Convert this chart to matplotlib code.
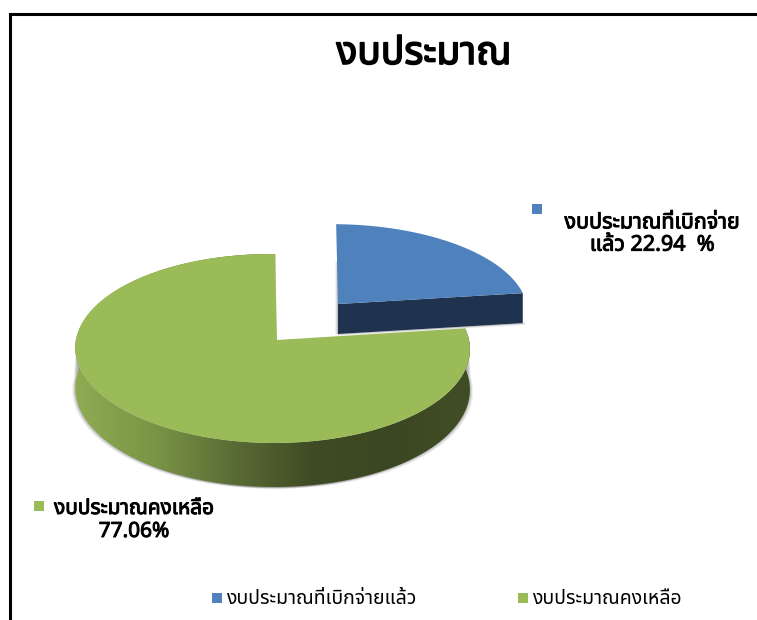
import numpy as np
import matplotlib
matplotlib.use("Agg")
from matplotlib import pyplot as plt
from matplotlib.colors import LinearSegmentedColormap
from matplotlib.patches import Rectangle, Polygon
import matplotlib.patheffects as pe

# data
categories = ["งบประมาณที่เบิกจ่ายแล้ว", "งบประมาณคงเหลือ"]
values = [22.94, 77.06]
title = "งบประมาณ"
label_blue = "งบประมาณที่เบิกจ่าย\nแล้ว 22.94  %"
label_green = "งบประมาณคงเหลือ\n77.06%"

THAI = ["Noto Sans Thai", "Sarabun", "DejaVu Sans"]
plt.rcParams["font.family"] = THAI

BLUE = "#4F81BD"
BLUE_SIDE = "#1F334F"
GREEN = "#9BBB59"
side_cmap = LinearSegmentedColormap.from_list(
    "side", ["#8FAB52", "#7A9546", "#5A6C35", "#3F4B24", "#3B4722", "#414E25"])


def bold(w):
    # the Thai face only comes in one weight here, thicken it with a stroke
    return [pe.withStroke(linewidth=w, foreground="black")]


def project(theta, cx, cy, ax_, ay_, depth=0.0):
    # theta clockwise from 12 o'clock, tilted disc with a bit of perspective
    u = np.sin(theta)
    v = np.cos(theta)
    w = 1 + 0.09 * v + 0.023 * u
    x = cx + (ax_ * u - 2 * v) / w
    y = cy - ay_ * v / w + depth * (1 - 0.1 * v)
    return x, y


def slice_points(start, end, cx, cy, ax_, ay_, depth=0.0):
    t = np.linspace(start, end, 200)
    x, y = project(t, cx, cy, ax_, ay_, depth)
    return np.r_[cx, x], np.r_[cy + depth, y]


fig = plt.figure(figsize=(7.57, 6.2), dpi=100)
ax = fig.add_axes([0, 0, 1, 1])
ax.axis("off")

# frame of the screenshot
ax.plot([10, 10, 757], [620, 13.5, 13.5], color="black", lw=2.2, solid_joinstyle="miter")

angles = np.cumsum([0] + values) / sum(values) * 2 * np.pi

# blue slice, pulled out
B = (338, 304, 193, 87)
B_DEPTH = 30
x0, y0 = project(angles[1], *B)
# faint shadow down the cut edge and under the block
for off, a in [(3, 0.12), (2, 0.2), (1, 0.3)]:
    ax.fill([B[0] - off, B[0], B[0], B[0] - off], [262, 262, B[1] + B_DEPTH, B[1] + B_DEPTH],
            color="#888888", alpha=a, lw=0)
    ax.fill([B[0], x0 + off, x0 + off, B[0]], [B[1] + B_DEPTH + off * 0.6, y0 + B_DEPTH + off * 0.6, y0 + B_DEPTH, B[1] + B_DEPTH],
            color="#888888", alpha=a, lw=0)
ax.fill([B[0], x0, x0, B[0]], [B[1], y0, y0 + B_DEPTH, B[1] + B_DEPTH], color=BLUE_SIDE, lw=0)
x, y = slice_points(angles[0], angles[1], *B)
ax.fill(x, y, color=BLUE, lw=0)

# green slice
G = (277, 340, 196.4, 93.7)
G_DEPTH = 40
t = np.linspace(angles[1], angles[2], 400)
xt, yt = project(t, *G)
xb, yb = project(t, *G, depth=G_DEPTH)

# soft shadow under the rim, only the front part of the disc
front = np.cos(t) < 0.05
for off, a in [(3, 0.12), (2, 0.18), (1, 0.25)]:
    ax.fill(np.r_[xb[front] - off, xt[front][::-1]], np.r_[yb[front] + off * 0.6, yt[front][::-1]], color="#777777", alpha=a, lw=0)
    ax.fill(np.r_[xb[front] + off, xt[front][::-1]], np.r_[yb[front] + off * 0.6, yt[front][::-1]], color="#777777", alpha=a, lw=0)

# rim with its shading, left to right
rim = Polygon(np.c_[np.r_[xt, xb[::-1]], np.r_[yt, yb[::-1]]], closed=True, fc="none", ec="none")
ax.add_patch(rim)
shade = ax.imshow(np.linspace(0, 1, 256)[None, :], cmap=side_cmap, aspect="auto", zorder=1.5,
                  extent=(xt.min(), xt.max(), yb.max(), yt.min()), interpolation="bilinear")
shade.set_clip_path(rim)

x, y = slice_points(angles[1], angles[2], *G)
ax.fill(x, y, color=GREEN, lw=0, zorder=2)

# title and data labels
ax.text(424, 54, title, fontsize=28, ha="center", va="center", path_effects=bold(1.2))

ax.add_patch(Rectangle((532, 204), 10, 10, color=BLUE, lw=0))
ax.text(652, 234, label_blue, fontsize=15.5, ha="center", va="center", linespacing=1.08, path_effects=bold(0.7))

ax.add_patch(Rectangle((33.5, 501), 10, 10, color=GREEN, lw=0))
ax.text(134, 520, label_green, fontsize=15, ha="center", va="center", linespacing=1.12, path_effects=bold(0.7))

# legend at the bottom
ax.add_patch(Rectangle((212, 593), 10, 10, color=BLUE, lw=0))
ax.text(226, 599, categories[0], fontsize=14, ha="left", va="center")
ax.add_patch(Rectangle((518, 593), 10, 10, color=GREEN, lw=0))
ax.text(532, 599, categories[1], fontsize=14, ha="left", va="center")

ax.set_xlim(0, 757)
ax.set_ylim(620, 0)

fig.savefig("out.png", dpi=100)
